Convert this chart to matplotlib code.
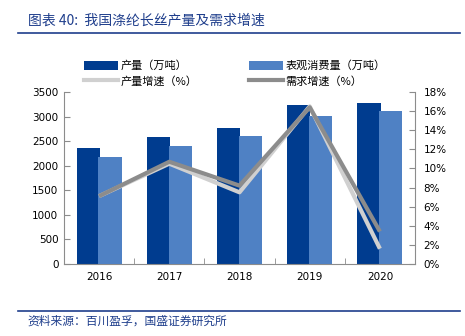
import matplotlib
matplotlib.use("Agg")
import matplotlib.pyplot as plt
import numpy as np
from matplotlib.patches import Patch
from matplotlib.lines import Line2D

plt.rcParams['font.family'] = ['DejaVu Sans', 'Noto Sans CJK SC']

# data
years = ['2016', '2017', '2018', '2019', '2020']
production = [2354, 2584, 2774, 3229, 3282]      # 万吨
consumption = [2177, 2401, 2598, 3018, 3113]     # 万吨
production_growth = [7.1, 10.5, 7.5, 16.5, 1.6]  # %
demand_growth = [7.1, 10.7, 8.2, 16.4, 3.4]      # %

dark_blue = '#003C8F'
light_blue = '#4F81C4'
light_gray = '#D0D0D0'
dark_gray = '#8C8C8C'
title_blue = '#1F3E8C'
cjk = ['Noto Sans CJK SC', 'DejaVu Sans']

fig = plt.figure(figsize=(4.65, 3.36), dpi=100)
ax = fig.add_axes([0.1376, 0.2143, 0.7549, 0.5119])

x = np.arange(len(years))
w = 0.33
ax.bar(x - 0.155, production, width=w, color=dark_blue, zorder=2)
ax.bar(x + 0.155, consumption, width=w, color=light_blue, zorder=3)
ax.set_xlim(-0.5, len(years) - 0.5)
ax.set_ylim(0, 3500)
ax.set_yticks(range(0, 3501, 500))
ax.set_xticks(x)
ax.set_xticklabels(years)
ax.set_xticks(np.arange(0.5, len(years) - 0.5, 1), minor=True)

ax2 = ax.twinx()
ax2.plot(x, production_growth, color=light_gray, lw=3, solid_capstyle='butt', zorder=4)
ax2.plot(x, demand_growth, color=dark_gray, lw=3, solid_capstyle='butt', zorder=5)
ax2.set_ylim(0, 18)
ax2.set_yticks(range(0, 19, 2))
ax2.set_yticklabels([f'{v}%' for v in range(0, 19, 2)])

for a in (ax, ax2):
    a.spines['top'].set_visible(False)
    for s in a.spines.values():
        s.set_color('#8C8C8C')
        s.set_linewidth(0.8)
ax.spines['right'].set_visible(False)
ax2.spines['left'].set_visible(False)
ax2.spines['bottom'].set_visible(False)

ax.tick_params(axis='y', direction='in', length=4, color='#8C8C8C', labelsize=7.5, pad=4)
ax.tick_params(axis='x', which='major', length=0, labelsize=7.5, pad=6)
ax.tick_params(axis='x', which='minor', direction='in', length=4, color='#8C8C8C')
ax2.tick_params(axis='y', direction='in', length=4, color='#8C8C8C', labelsize=7.5, pad=6)

handles = [
    Patch(facecolor=dark_blue),
    Line2D([0], [0], color=light_gray, lw=3),
    Patch(facecolor=light_blue),
    Line2D([0], [0], color=dark_gray, lw=3),
]
labels = ['产量（万吨）', '产量增速（%）', '表观消费量（万吨）', '需求增速（%）']
fig.legend(handles, labels, ncol=2, loc='upper left', bbox_to_anchor=(0.159, 0.85),
           frameon=False, handlelength=3.1, handleheight=0.9,
           handletextpad=0.2, columnspacing=4.6, labelspacing=0.42,
           prop={'family': cjk, 'size': 8})

# header and footer
fig.text(0.06, 0.938, '图表 40:  我国涤纶长丝产量及需求增速', color=title_blue,
         fontsize=10, style='italic', family=cjk, va='center')
fig.add_artist(Line2D([0.039, 0.99], [0.903, 0.903], color=title_blue, lw=1.2))
fig.add_artist(Line2D([0.039, 0.99], [0.075, 0.075], color=title_blue, lw=1.2))
fig.text(0.06, 0.045, '资料来源：百川盈孚，国盛证券研究所', color=title_blue,
         fontsize=8.5, style='italic', family=cjk, va='center')

fig.savefig('out.png', dpi=100)
